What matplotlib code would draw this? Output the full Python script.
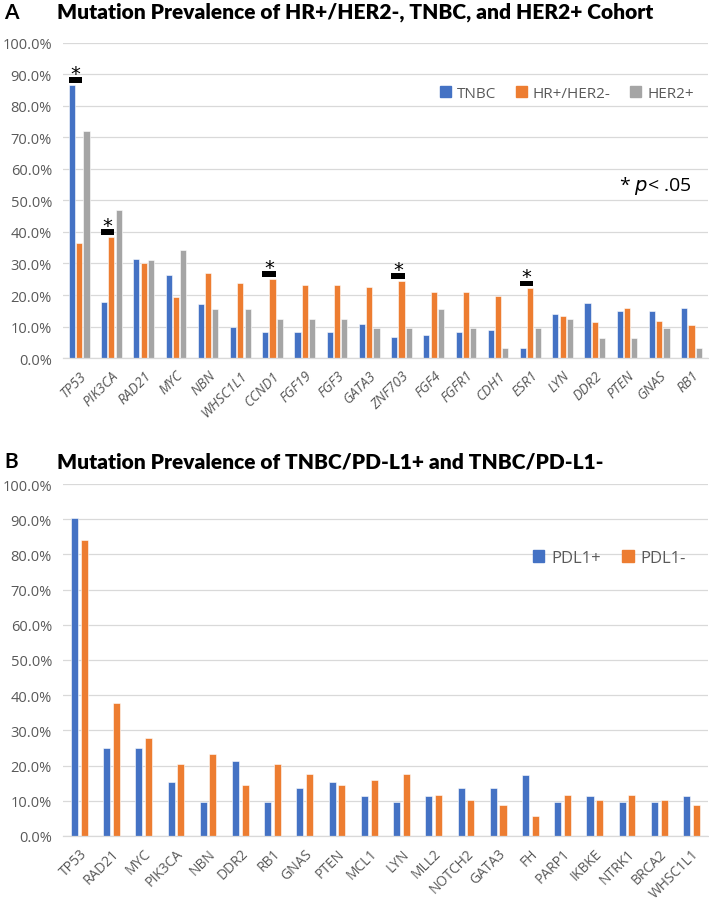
import matplotlib
matplotlib.use('Agg')
import matplotlib.pyplot as plt
import numpy as np
from matplotlib.patches import Patch

# panel A data
genes_a = ['TP53', 'PIK3CA', 'RAD21', 'MYC', 'NBN', 'WHSC1L1', 'CCND1', 'FGF19', 'FGF3', 'GATA3',
           'ZNF703', 'FGF4', 'FGFR1', 'CDH1', 'ESR1', 'LYN', 'DDR2', 'PTEN', 'GNAS', 'RB1']
tnbc = [86.7, 17.9, 31.4, 26.3, 17.3, 9.9, 8.3, 8.3, 8.3, 10.8,
        6.6, 7.4, 8.3, 9.0, 3.3, 14.1, 17.4, 15.0, 15.0, 15.8]
hr_pos = [36.4, 38.4, 30.1, 19.4, 26.9, 23.9, 25.2, 23.2, 23.2, 22.5,
          24.6, 20.9, 20.9, 19.6, 22.1, 13.4, 11.4, 15.8, 11.9, 10.6]
her2 = [71.9, 46.9, 31.2, 34.4, 15.6, 15.6, 12.5, 12.5, 12.5, 9.4,
        9.4, 15.6, 9.4, 3.1, 9.4, 12.5, 6.3, 6.3, 9.4, 3.1]
signif_a = ['TP53', 'PIK3CA', 'CCND1', 'ZNF703', 'ESR1']

# panel B data
genes_b = ['TP53', 'RAD21', 'MYC', 'PIK3CA', 'NBN', 'DDR2', 'RB1', 'GNAS', 'PTEN', 'MCL1',
           'LYN', 'MLL2', 'NOTCH2', 'GATA3', 'FH', 'PARP1', 'IKBKE', 'NTRK1', 'BRCA2', 'WHSC1L1']
pdl1_pos = [90.4, 25.0, 25.0, 15.4, 9.6, 21.2, 9.6, 13.5, 15.4, 11.5,
            9.6, 11.5, 13.5, 13.5, 17.3, 9.6, 11.5, 9.6, 9.6, 11.5]
pdl1_neg = [84.0, 37.9, 27.7, 20.4, 23.3, 14.6, 20.4, 17.5, 14.6, 16.0,
            17.5, 11.7, 10.2, 8.7, 5.8, 11.7, 10.2, 11.7, 10.2, 8.7]

BLUE = '#4472C4'
ORANGE = '#ED7D31'
GRAY = '#A5A5A5'
TXT = '#595959'
GRID = '#D9D9D9'

plt.rcParams['font.family'] = ['Open Sans', 'DejaVu Sans']

fig = plt.figure(figsize=(7.09, 9.03), dpi=100)


def style_axis(ax, genes, lab_style):
    ax.set_ylim(0, 100)
    ax.set_xlim(-0.5, len(genes) - 0.5)
    ax.set_yticks(np.arange(0, 101, 10))
    ax.set_yticklabels(['%.1f%%' % v for v in np.arange(0, 101, 10)], color=TXT, fontsize=10.5)
    ax.set_xticks(np.arange(len(genes)))
    ax.set_xticklabels(genes, rotation=45, ha='right', rotation_mode='anchor',
                       color=TXT, fontsize=10, style=lab_style)
    ax.tick_params(axis='y', length=0, pad=8)
    ax.tick_params(axis='x', length=0, pad=7)
    ax.grid(axis='y', color=GRID, linewidth=0.9)
    ax.set_axisbelow(True)
    for s in ['top', 'right', 'left']:
        ax.spines[s].set_visible(False)
    ax.spines['bottom'].set_color(GRID)
    ax.spines['bottom'].set_linewidth(0.9)


# ---- panel A
axA = fig.add_axes([0.089, 0.6024, 0.909, 0.349])
x = np.arange(len(genes_a))
w = 0.19
off = 0.225
axA.bar(x - off, tnbc, w, color=BLUE, edgecolor='white', linewidth=0.4, label='TNBC')
axA.bar(x, hr_pos, w, color=ORANGE, edgecolor='white', linewidth=0.4, label='HR+/HER2-')
axA.bar(x + off, her2, w, color=GRAY, edgecolor='white', linewidth=0.4, label='HER2+')
style_axis(axA, genes_a, 'italic')

# significance marks
for g in signif_a:
    i = genes_a.index(g)
    top = max(tnbc[i], hr_pos[i])
    axA.bar(i - off / 2, 1.8, off + w, bottom=top + 0.6, color='black')
    axA.text(i - off / 2, top + 0.6, '*', ha='center', va='bottom', fontsize=14,
             color='black', family='DejaVu Sans')

axA.legend(handles=[Patch(color=BLUE, label='TNBC'), Patch(color=ORANGE, label='HR+/HER2-'),
                    Patch(color=GRAY, label='HER2+')],
           loc='center right', bbox_to_anchor=(1.0, 0.84), ncol=3, frameon=False,
           fontsize=11, handlelength=0.7, handleheight=0.7, handletextpad=0.4,
           columnspacing=1.3, labelcolor=TXT)
axA.text(0.975, 0.55, '* $\\it{p}$< .05', transform=axA.transAxes, ha='right', va='center',
         fontsize=14, color='black')

fig.text(0.006, 0.986, 'A', fontsize=15, fontweight='bold', va='center', family='Lato')
fig.text(0.080, 0.986, 'Mutation Prevalence of HR+/HER2-, TNBC, and HER2+ Cohort',
         fontsize=15, fontweight='heavy', va='center', family='Lato')

# ---- panel B
axB = fig.add_axes([0.089, 0.0731, 0.909, 0.3898])
x = np.arange(len(genes_b))
wb = 0.22
offb = 0.15
axB.bar(x - offb, pdl1_pos, wb, color=BLUE, edgecolor='white', linewidth=0.4)
axB.bar(x + offb, pdl1_neg, wb, color=ORANGE, edgecolor='white', linewidth=0.4)
style_axis(axB, genes_b, 'normal')
axB.legend(handles=[Patch(color=BLUE, label='PDL1+'), Patch(color=ORANGE, label='PDL1-')],
           loc='center right', bbox_to_anchor=(0.99, 0.79), ncol=2, frameon=False,
           fontsize=12, handlelength=0.7, handleheight=0.7, handletextpad=0.4,
           columnspacing=1.3, labelcolor=TXT)

fig.text(0.006, 0.488, 'B', fontsize=15, fontweight='bold', va='center', family='Lato')
fig.text(0.080, 0.488, 'Mutation Prevalence of TNBC/PD-L1+ and TNBC/PD-L1-',
         fontsize=15, fontweight='heavy', va='center', family='Lato')

fig.savefig('out.png', dpi=100)
